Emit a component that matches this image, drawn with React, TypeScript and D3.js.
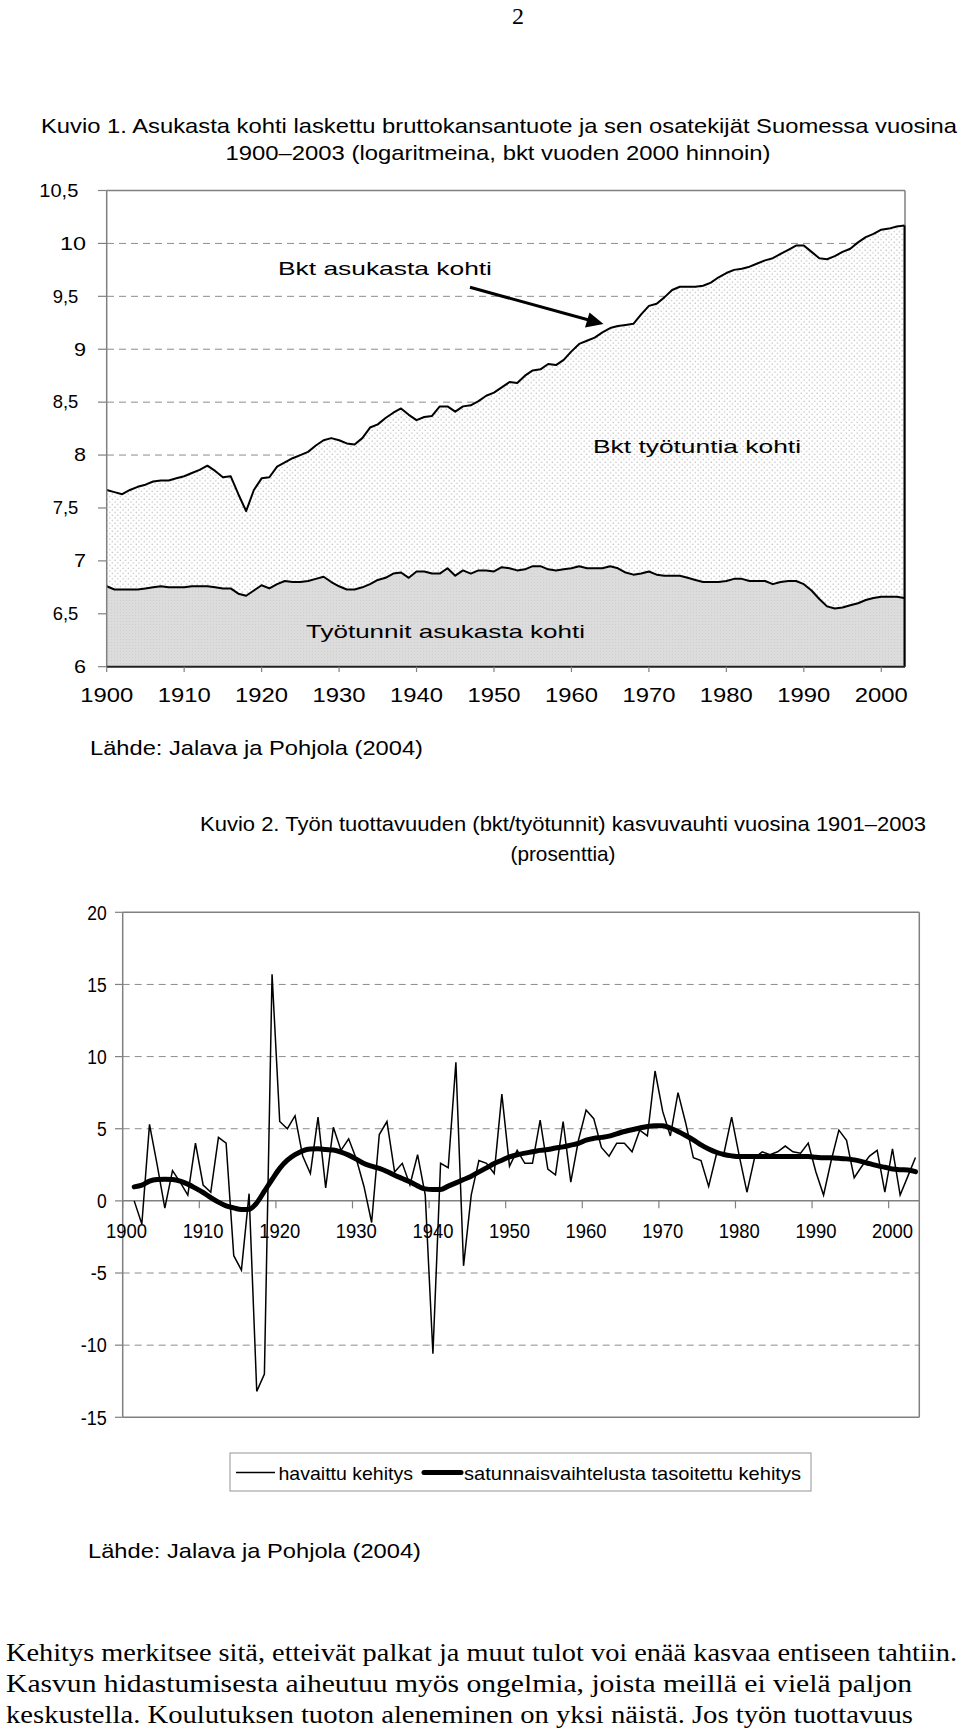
import React from "react";
import * as d3 from "d3";

// ---------- Kuvio 1 data (log values, 1900–2003) ----------
const years1: number[] = d3.range(1900, 2004);
const gdpPerCapita: number[] = [
  7.67, 7.65, 7.63, 7.67, 7.70, 7.72, 7.75, 7.76, 7.76, 7.78,
  7.80, 7.83, 7.86, 7.90, 7.85, 7.79, 7.80, 7.63, 7.47, 7.67,
  7.78, 7.79, 7.89, 7.93, 7.97, 8.00, 8.03, 8.09, 8.14, 8.16,
  8.14, 8.11, 8.10, 8.16, 8.26, 8.29, 8.35, 8.40, 8.44, 8.38,
  8.33, 8.36, 8.37, 8.46, 8.46, 8.41, 8.46, 8.47, 8.51, 8.56,
  8.59, 8.64, 8.69, 8.68, 8.75, 8.80, 8.81, 8.86, 8.85, 8.90,
  8.98, 9.05, 9.08, 9.11, 9.16, 9.20, 9.22, 9.23, 9.24, 9.33,
  9.41, 9.43, 9.49, 9.56, 9.59, 9.59, 9.59, 9.60, 9.63, 9.68,
  9.72, 9.75, 9.76, 9.78, 9.81, 9.84, 9.86, 9.90, 9.94, 9.98,
  9.98, 9.92, 9.86, 9.85, 9.88, 9.92, 9.95, 10.01, 10.06, 10.09,
  10.13, 10.14, 10.16, 10.17,
];
const hoursPerCapita: number[] = [
  6.76, 6.73, 6.73, 6.73, 6.73, 6.74, 6.75, 6.76, 6.75, 6.75,
  6.75, 6.76, 6.76, 6.76, 6.75, 6.74, 6.74, 6.69, 6.67, 6.72,
  6.77, 6.74, 6.78, 6.81, 6.80, 6.80, 6.81, 6.83, 6.85, 6.80,
  6.76, 6.73, 6.73, 6.75, 6.78, 6.82, 6.84, 6.88, 6.89, 6.84,
  6.90, 6.90, 6.88, 6.88, 6.93, 6.86, 6.91, 6.88, 6.91, 6.91,
  6.90, 6.94, 6.93, 6.91, 6.92, 6.95, 6.95, 6.92, 6.91, 6.92,
  6.93, 6.95, 6.93, 6.93, 6.93, 6.95, 6.93, 6.89, 6.87, 6.88,
  6.90, 6.87, 6.86, 6.86, 6.86, 6.84, 6.82, 6.80, 6.80, 6.80,
  6.81, 6.83, 6.83, 6.81, 6.81, 6.81, 6.78, 6.80, 6.81, 6.81,
  6.78, 6.72, 6.64, 6.57, 6.55, 6.56, 6.58, 6.60, 6.63, 6.65,
  6.66, 6.66, 6.66, 6.65,
];
const yTicks1: number[] = [6, 6.5, 7, 7.5, 8, 8.5, 9, 9.5, 10, 10.5];
const yTickLabels1: string[] = ["6", "6,5", "7", "7,5", "8", "8,5", "9", "9,5", "10", "10,5"];
const xTicks1: number[] = [1900, 1910, 1920, 1930, 1940, 1950, 1960, 1970, 1980, 1990, 2000];

// ---------- Kuvio 2 data (% growth, 1901–2003) ----------
const categories2: number[] = d3.range(1900, 2004);
const years2: number[] = d3.range(1901, 2004);
const observedGrowth: number[] = [
  0.0, -1.6, 5.3, 2.5, -0.5, 2.1, 1.3, 0.4, 4.0, 1.1,
  0.6, 4.4, 4.0, -3.8, -4.8, 0.5, -13.2, -12.0, 15.7, 5.5,
  5.0, 5.9, 3.1, 1.9, 5.8, 0.9, 5.1, 3.5, 4.3, 2.9,
  1.0, -1.5, 4.6, 5.5, 2.0, 2.6, 1.1, 3.2, 0.4, -10.6,
  2.6, 2.3, 9.6, -4.5, 0.4, 2.8, 2.6, 1.9, 7.4, 2.4,
  3.5, 2.6, 2.6, 5.6, 2.2, 1.8, 5.5, 1.3, 4.2, 6.3,
  5.7, 3.7, 3.1, 4.0, 4.0, 3.4, 4.9, 4.5, 9.0, 6.2,
  4.5, 7.5, 5.4, 3.0, 2.8, 1.0, 3.2, 3.3, 5.8, 3.1,
  0.6, 3.0, 3.4, 3.2, 3.4, 3.8, 3.4, 3.3, 4.0, 2.0,
  0.4, 2.8, 4.9, 4.2, 1.6, 2.4, 3.1, 3.5, 0.6, 3.6,
  0.4, 1.7, 3.0,
];
const smoothedGrowth: number[] = [
  0.97, 1.09, 1.37, 1.48, 1.50, 1.48, 1.37, 1.16, 0.88, 0.58,
  0.23, -0.09, -0.35, -0.49, -0.60, -0.58, -0.14, 0.67, 1.48, 2.25,
  2.82, 3.20, 3.47, 3.59, 3.61, 3.56, 3.52, 3.38, 3.17, 2.89,
  2.59, 2.40, 2.25, 2.04, 1.78, 1.55, 1.32, 1.04, 0.83, 0.79,
  0.79, 1.02, 1.25, 1.48, 1.71, 2.01, 2.29, 2.59, 2.82, 3.05,
  3.20, 3.31, 3.40, 3.50, 3.56, 3.66, 3.74, 3.86, 3.98, 4.21,
  4.33, 4.40, 4.49, 4.65, 4.81, 4.93, 5.05, 5.16, 5.21, 5.21,
  5.05, 4.81, 4.53, 4.23, 3.88, 3.60, 3.37, 3.21, 3.12, 3.07,
  3.07, 3.07, 3.07, 3.07, 3.07, 3.07, 3.07, 3.07, 3.07, 3.02,
  2.98, 2.98, 2.95, 2.91, 2.84, 2.72, 2.58, 2.44, 2.33, 2.21,
  2.16, 2.14, 2.02,
];
const yTicks2: number[] = [-15, -10, -5, 0, 5, 10, 15, 20];
const xTicks2: number[] = [1900, 1910, 1920, 1930, 1940, 1950, 1960, 1970, 1980, 1990, 2000];

const SANS = "'Liberation Sans', Arial, sans-serif";
const SERIF = "'Liberation Serif', 'Times New Roman', serif";

function T(props: {
  x: number; y: number; w?: number; anchor?: "start" | "middle" | "end";
  size: number; family?: string; children: React.ReactNode;
}) {
  const { x, y, w, anchor = "start", size, family = SANS, children } = props;
  return (
    <text
      x={x}
      y={y}
      fontSize={size}
      fontFamily={family}
      textAnchor={anchor}
      fill="#000"
      {...(w ? { textLength: w, lengthAdjust: "spacingAndGlyphs" } : {})}
    >
      {children}
    </text>
  );
}

export default function App() {
  // ---------- Chart 1 scales ----------
  const x1 = d3.scaleLinear().domain([1900, 2003]).range([106.7, 904.5]);
  const y1 = d3.scaleLinear().domain([6, 10.5]).range([666.7, 190.5]);

  const gdpArea = d3.area<number>()
    .x((_, i) => x1(years1[i]))
    .y0(y1(6))
    .y1((d) => y1(d))(gdpPerCapita) as string;
  const gdpLine = d3.line<number>()
    .x((_, i) => x1(years1[i]))
    .y((d) => y1(d))(gdpPerCapita) as string;
  const hoursArea = d3.area<number>()
    .x((_, i) => x1(years1[i]))
    .y0(y1(6))
    .y1((d) => y1(d))(hoursPerCapita) as string;
  const hoursLine = d3.line<number>()
    .x((_, i) => x1(years1[i]))
    .y((d) => y1(d))(hoursPerCapita) as string;

  // ---------- Chart 2 scales ----------
  const x2 = d3.scaleBand<number>().domain(categories2).range([122.7, 919.3]).padding(0);
  const bw = x2.bandwidth();
  const cx2 = (yr: number) => (x2(yr) as number) + bw / 2;
  const y2 = d3.scaleLinear().domain([-15, 20]).range([1417.3, 912.3]);

  const obsLine = d3.line<number>()
    .x((_, i) => cx2(years2[i]))
    .y((d) => y2(d))(observedGrowth) as string;
  const smoothLine = d3.line<number>()
    .curve(d3.curveMonotoneX)
    .x((_, i) => cx2(years2[i]))
    .y((d) => y2(d))(smoothedGrowth) as string;

  const gridGray = "#8c8c8c";
  const axisGray = "#808080";

  const lastGdp = gdpPerCapita[gdpPerCapita.length - 1];

  return (
    <svg
      width={960}
      height={1733}
      viewBox="0 0 960 1733"
      style={{ position: "absolute", left: 0, top: 0, background: "#fff" }}
    >
      <defs>
        <pattern id="dots" width="5.3" height="5.3" patternUnits="userSpaceOnUse">
          <rect width="5.3" height="5.3" fill="#fff" />
          <rect x="0.6" y="0.6" width="1" height="1" fill="#9a9a9a" />
          <rect x="3.25" y="3.25" width="1" height="1" fill="#9a9a9a" />
        </pattern>
        <pattern id="greyfill" width="3" height="3" patternUnits="userSpaceOnUse">
          <rect width="3" height="3" fill="#dcdcdc" />
          <rect x="0" y="0" width="1" height="1" fill="#cfcfcf" />
        </pattern>
      </defs>
      <rect x={0} y={0} width={960} height={1733} fill="#fff" />

      {/* Page number */}
      <T x={518} y={24} size={24} family={SERIF} anchor="middle">2</T>

      {/* ---------------- Kuvio 1 ---------------- */}
      <T x={41} y={133} w={916} size={21}>
        Kuvio 1. Asukasta kohti laskettu bruttokansantuote ja sen osatekijät Suomessa vuosina
      </T>
      <T x={498} y={160} w={545} size={21} anchor="middle">
        1900–2003 (logaritmeina, bkt vuoden 2000 hinnoin)
      </T>

      {/* gridlines */}
      {yTicks1.filter((v) => v > 6 && v < 10.5).map((v) => (
        <line key={"g1" + v} x1={107} x2={904.5} y1={y1(v)} y2={y1(v)}
          stroke={gridGray} strokeWidth={1} strokeDasharray="7,5" />
      ))}
      {/* frame */}
      <line x1={106.7} x2={905} y1={190.5} y2={190.5} stroke={axisGray} strokeWidth={1.5} />
      <line x1={905} x2={905} y1={190.5} y2={666.7} stroke={axisGray} strokeWidth={1.5} />

      {/* areas */}
      <path d={gdpArea} fill="url(#dots)" stroke="none" />
      <path d={hoursArea} fill="url(#greyfill)" stroke="none" />
      <path d={gdpLine} fill="none" stroke="#000" strokeWidth={2} strokeLinejoin="round" />
      <path d={hoursLine} fill="none" stroke="#000" strokeWidth={2} strokeLinejoin="round" />
      <line x1={x1(2003)} x2={x1(2003)} y1={y1(lastGdp)} y2={y1(6)} stroke="#000" strokeWidth={2} />

      {/* axes */}
      <line x1={106.7} x2={106.7} y1={190.5} y2={666.7} stroke={axisGray} strokeWidth={1.5} />
      <line x1={106.7} x2={905} y1={666.7} y2={666.7} stroke="#222" strokeWidth={2} />
      {yTicks1.map((v, i) => {
        const isHalf = yTickLabels1[i].includes(",");
        return (
          <g key={"yt1" + v}>
            <line x1={98} x2={106.7} y1={y1(v)} y2={y1(v)} stroke={axisGray} strokeWidth={1.2} />
            <T x={isHalf ? 78.3 : 86} y={y1(v) + 6.3} size={17.7} anchor="end"
              w={isHalf ? (v >= 10 ? 39 : 25.6) : (v >= 10 ? 26 : 12)}>
              {yTickLabels1[i]}
            </T>
          </g>
        );
      })}
      {xTicks1.map((yr) => (
        <g key={"xt1" + yr}>
          <line x1={x1(yr)} x2={x1(yr)} y1={666.7} y2={672} stroke={axisGray} strokeWidth={1.2} />
          <T x={x1(yr)} y={701.7} size={19.5} anchor="middle" w={53}>{String(yr)}</T>
        </g>
      ))}

      {/* annotations */}
      <T x={278} y={275} size={18.6} w={214}>Bkt asukasta kohti</T>
      <line x1={470} y1={287.3} x2={597} y2={322.3} stroke="#000" strokeWidth={3} />
      <path d="M 603.5 324 L 585 327.5 L 589.5 312.5 Z" fill="#000" />
      <T x={593} y={452.7} size={18.6} w={208}>Bkt työtuntia kohti</T>
      <T x={306} y={637.7} size={18.6} w={279}>Työtunnit asukasta kohti</T>

      <T x={90} y={755} size={21} w={333}>Lähde: Jalava ja Pohjola (2004)</T>

      {/* ---------------- Kuvio 2 ---------------- */}
      <T x={200} y={831} w={726} size={21}>
        Kuvio 2. Työn tuottavuuden (bkt/työtunnit) kasvuvauhti vuosina 1901–2003
      </T>
      <T x={563} y={861} size={21} anchor="middle" w={105}>(prosenttia)</T>

      {/* gridlines */}
      {yTicks2.filter((v) => v !== 0 && v !== 20 && v !== -15).map((v) => (
        <line key={"g2" + v} x1={122.7} x2={919.3} y1={y2(v)} y2={y2(v)}
          stroke={gridGray} strokeWidth={1} strokeDasharray="7,5" />
      ))}
      {/* frame */}
      <line x1={122.7} x2={919.3} y1={y2(20)} y2={y2(20)} stroke={axisGray} strokeWidth={1.5} />
      <line x1={122.7} x2={919.3} y1={y2(-15)} y2={y2(-15)} stroke={axisGray} strokeWidth={1.5} />
      <line x1={919.3} x2={919.3} y1={y2(20)} y2={y2(-15)} stroke={axisGray} strokeWidth={1.5} />
      <line x1={122.7} x2={122.7} y1={y2(20)} y2={y2(-15)} stroke={axisGray} strokeWidth={1.5} />
      {/* zero axis */}
      <line x1={122.7} x2={919.3} y1={y2(0)} y2={y2(0)} stroke={axisGray} strokeWidth={1.5} />
      {xTicks2.map((yr) => (
        <line key={"xt2" + yr} x1={x2(yr) as number} x2={x2(yr) as number}
          y1={y2(0)} y2={y2(0) + 7.5} stroke={axisGray} strokeWidth={1.2} />
      ))}
      {yTicks2.map((v) => (
        <g key={"yt2" + v}>
          <line x1={115} x2={122.7} y1={y2(v)} y2={y2(v)} stroke={axisGray} strokeWidth={1.2} />
          <T x={106.7} y={y2(v) + 7.2} size={20} anchor="end"
            w={String(v).length === 1 ? 9.7 : String(v).length === 2 ? (v < 0 ? 16 : 19.4) : 26}>
            {String(v)}
          </T>
        </g>
      ))}

      {/* data */}
      <path d={obsLine} fill="none" stroke="#000" strokeWidth={1.5} strokeLinejoin="miter" />
      <path d={smoothLine} fill="none" stroke="#000" strokeWidth={5} strokeLinejoin="round" strokeLinecap="round" />

      {/* x labels */}
      {xTicks2.map((yr) => (
        <T key={"xl2" + yr} x={cx2(yr)} y={1237.5} size={20.5} anchor="middle" w={41}>{String(yr)}</T>
      ))}

      {/* legend */}
      <rect x={230} y={1453} width={581} height={38} fill="#fff" stroke="#a6a6a6" strokeWidth={1.2} />
      <line x1={236} x2={275} y1={1472.5} y2={1472.5} stroke="#000" strokeWidth={1.5} />
      <T x={278.5} y={1479.5} size={18.6} w={134.5}>havaittu kehitys</T>
      <line x1={424} x2={461} y1={1472.5} y2={1472.5} stroke="#000" strokeWidth={5} strokeLinecap="round" />
      <T x={464} y={1479.5} size={18.6} w={337}>satunnaisvaihtelusta tasoitettu kehitys</T>

      <T x={88} y={1558} size={21} w={333}>Lähde: Jalava ja Pohjola (2004)</T>

      {/* body text */}
      <T x={6} y={1661} size={25} family={SERIF} w={951}>
        Kehitys merkitsee sitä, etteivät palkat ja muut tulot voi enää kasvaa entiseen tahtiin.
      </T>
      <T x={6} y={1692} size={25} family={SERIF} w={906}>
        Kasvun hidastumisesta aiheutuu myös ongelmia, joista meillä ei vielä paljon
      </T>
      <T x={6} y={1723} size={25} family={SERIF} w={907}>
        keskustella. Koulutuksen tuoton aleneminen on yksi näistä. Jos työn tuottavuus
      </T>
    </svg>
  );
}
